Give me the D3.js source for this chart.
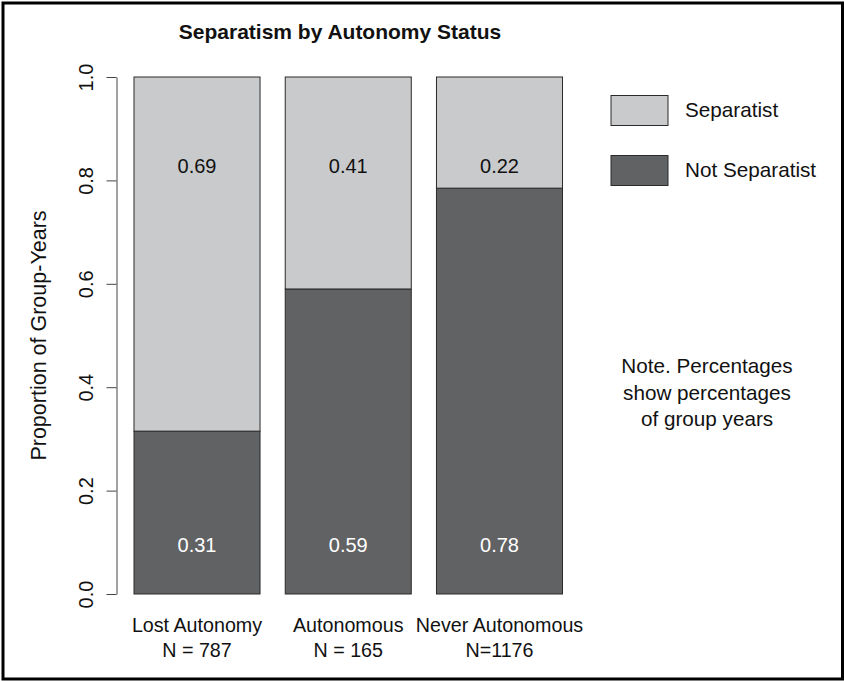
<!DOCTYPE html>
<html>
<head>
<meta charset="utf-8">
<script src="https://cdn.jsdelivr.net/npm/d3@7"></script>
<style>
  body { margin: 0; background: #fff; }
  text { font-family: "Liberation Sans", Arial, sans-serif; }
</style>
</head>
<body>
<div id="chart"></div>
<script>
// data
var categories = ["Lost Autonomy", "Autonomous", "Never Autonomous"]
var sampleSizes = ["N = 787", "N = 165", "N=1176"]
var notSeparatist = [0.315, 0.59, 0.785]
var separatist = [0.685, 0.41, 0.215]
var notSepLabels = ["0.31", "0.59", "0.78"]
var sepLabels = ["0.69", "0.41", "0.22"]
var yTicks = [0, 0.2, 0.4, 0.6, 0.8, 1.0]
var legendKeys = ["Separatist", "Not Separatist"]
var noteLines = ["Note. Percentages", "show percentages", "of group years"]

var width = 844, height = 681
var colLight = "#c9cacc", colDark = "#616264"

var svg = d3.select("#chart").append("svg")
  .attr("width", width)
  .attr("height", height)

// outer frame
svg.append("rect")
  .attr("x", 3).attr("y", 3)
  .attr("width", 839.5).attr("height", 676)
  .attr("fill", "none").attr("stroke", "#000").attr("stroke-width", 3)

var x = d3.scaleBand()
  .domain(categories)
  .range([134, 562.5])
  .paddingInner(1 / 6)
  .paddingOuter(0)

var y = d3.scaleLinear().domain([0, 1]).range([594, 77])

var rows = categories.map((c, i) => ({cat: c, notSep: notSeparatist[i], sep: separatist[i]}))
var stack = d3.stack().keys(["notSep", "sep"])
var series = stack(rows)
var fills = {notSep: colDark, sep: colLight}

svg.selectAll("g.layer")
  .data(series)
  .enter().append("g")
  .attr("class", "layer")
  .attr("fill", d => fills[d.key])
  .selectAll("rect")
  .data(d => d)
  .enter().append("rect")
  .attr("x", d => x(d.data.cat))
  .attr("width", x.bandwidth())
  .attr("y", d => y(d[1]))
  .attr("height", d => y(d[0]) - y(d[1]))
  .attr("stroke", "#2a2a2a")
  .attr("stroke-width", 1)

// value labels inside bars
var topLabelAt = 0.828, bottomLabelAt = 0.095
svg.selectAll("text.sepLab")
  .data(sepLabels)
  .enter().append("text")
  .attr("class", "sepLab")
  .attr("x", (d, i) => x(categories[i]) + x.bandwidth() / 2)
  .attr("y", y(topLabelAt) + 7)
  .attr("text-anchor", "middle")
  .style("font-size", "20px")
  .attr("fill", "#111")
  .text(d => d)

svg.selectAll("text.notLab")
  .data(notSepLabels)
  .enter().append("text")
  .attr("class", "notLab")
  .attr("x", (d, i) => x(categories[i]) + x.bandwidth() / 2)
  .attr("y", y(bottomLabelAt) + 7)
  .attr("text-anchor", "middle")
  .style("font-size", "20px")
  .attr("fill", "#fff")
  .text(d => d)

// y axis
var yAxis = d3.axisLeft(y)
  .tickValues(yTicks)
  .tickFormat(d3.format(".1f"))
  .tickSize(10)
  .tickSizeOuter(0)

var ag = svg.append("g")
  .attr("transform", "translate(116.5,0)")
  .call(yAxis)
ag.select(".domain").attr("stroke", "#444")
ag.selectAll(".tick line").attr("stroke", "#444")
ag.selectAll(".tick text")
  .attr("x", 0).attr("dy", null)
  .attr("transform", "translate(-23.5,0) rotate(-90)")
  .attr("text-anchor", "middle")
  .attr("fill", "#111")
  .style("font-size", "20px")
  .style("font-family", "'Liberation Sans', Arial, sans-serif")

svg.append("text")
  .attr("transform", "translate(46," + y(0.5) + ") rotate(-90)")
  .attr("text-anchor", "middle")
  .style("font-size", "21.5px")
  .attr("fill", "#111")
  .text("Proportion of Group-Years")

// x category labels
categories.forEach((c, i) => {
  var cx = x(c) + x.bandwidth() / 2
  svg.append("text")
    .attr("x", cx).attr("y", 631.5)
    .attr("text-anchor", "middle")
    .style("font-size", "19.7px")
    .attr("fill", "#111")
    .text(c)
  svg.append("text")
    .attr("x", cx).attr("y", 656.5)
    .attr("text-anchor", "middle")
    .style("font-size", "19.7px")
    .attr("fill", "#111")
    .text(sampleSizes[i])
})

// title
svg.append("text")
  .attr("x", 340).attr("y", 39)
  .attr("text-anchor", "middle")
  .style("font-size", "21px")
  .style("font-weight", "bold")
  .attr("fill", "#111")
  .text("Separatism by Autonomy Status")

// legend
var legendFills = [colLight, colDark]
legendKeys.forEach((k, i) => {
  svg.append("rect")
    .attr("x", 611).attr("y", 95.5 + i * 60)
    .attr("width", 57).attr("height", 30)
    .attr("fill", legendFills[i])
    .attr("stroke", "#2a2a2a")
  svg.append("text")
    .attr("x", 685).attr("y", 117 + i * 60)
    .style("font-size", "20.7px")
    .attr("fill", "#111")
    .text(k)
})

// note
noteLines.forEach((t, i) => {
  svg.append("text")
    .attr("x", 707).attr("y", 373 + i * 26.7)
    .attr("text-anchor", "middle")
    .style("font-size", "20.7px")
    .attr("fill", "#111")
    .text(t)
})
</script>
</body>
</html>
